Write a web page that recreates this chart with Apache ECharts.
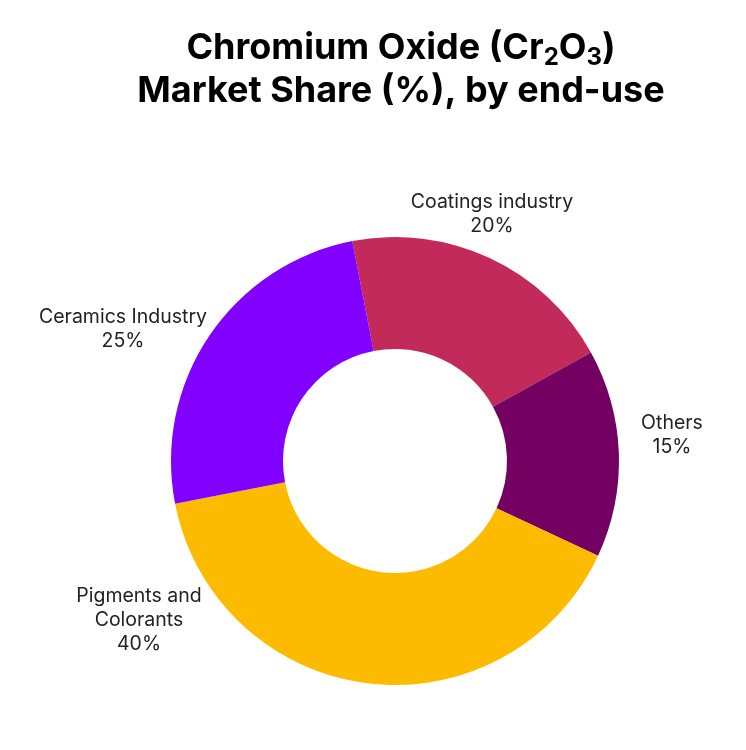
<!DOCTYPE html>
<html><head><meta charset="utf-8">
<script src="https://cdn.jsdelivr.net/npm/echarts@6/dist/echarts.min.js"></script>
<style>html,body{margin:0;padding:0;background:#fff;}#c{width:746px;height:750px;}</style>
</head><body><div id="c"></div>
<script>
const categories = ['Coatings industry', 'Others', 'Pigments and\nColorants', 'Ceramics Industry'];
const shares = [20, 15, 40, 25];
const colors = ['#C12A59', '#740062', '#FDBB00', '#8100FF'];
const labelPos = [[492, 214], [672, 435], [139, 620], [123, 329]];

const chart = echarts.init(document.getElementById('c'));
chart.setOption({
  backgroundColor: '#fff',
  title: {
    text: '{t|Chromium Oxide (Cr}{s|2}{t|O}{s|3}{t|)}\n{t|Market Share (%), by end-use}',
    left: 396, top: 22, textAlign: 'center',
    textStyle: {
      fontFamily: 'Inter', fontWeight: 700, fontSize: 36, lineHeight: 43, color: '#000',
      rich: {
        t: { fontFamily: 'Inter', fontWeight: 700, fontSize: 36, lineHeight: 43, color: '#000' },
        s: { fontFamily: 'Inter', fontWeight: 700, fontSize: 24, lineHeight: 24, color: '#000', verticalAlign: 'bottom' }
      }
    }
  },
  series: [{
    type: 'pie',
    center: [395, 461],
    radius: [112, 224],
    startAngle: 101,
    clockwise: true,
    data: categories.map((n, i) => ({ name: n, value: shares[i], itemStyle: { color: colors[i] } })),
    label: {
      show: true, position: 'outside',
      formatter: '{b}\n{c}%',
      fontFamily: 'Inter', fontSize: 19.5, lineHeight: 24, color: '#222', align: 'center',
      overflow: 'none'
    },
    labelLine: { show: false },
    labelLayout: function (p) {
      const pos = labelPos[p.dataIndex];
      return { x: pos[0], y: pos[1], align: 'center', verticalAlign: 'middle' };
    },
    emphasis: { disabled: true },
    animation: false
  }]
});
</script></body></html>
